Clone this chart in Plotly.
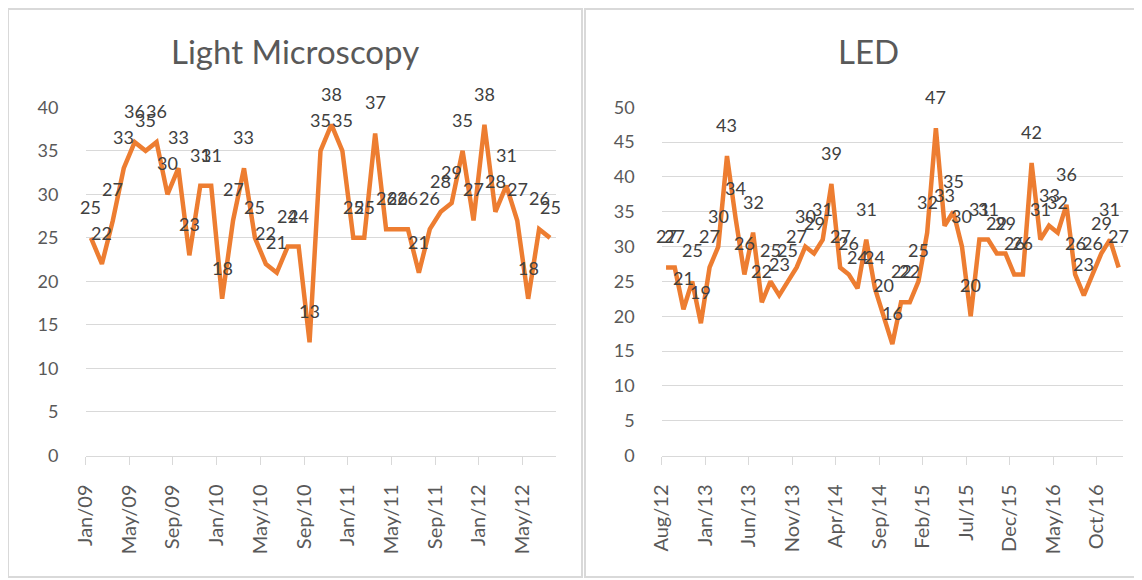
import plotly.graph_objects as go

# ---------------- data ----------------
lm_title = "Light Microscopy"
lm_values = [25, 22, 27, 33, 36, 35, 36, 30, 33, 23,
             31, 31, 18, 27, 33, 25, 22, 21, 24, 24,
             13, 35, 38, 35, 25, 25, 37, 26, 26, 26,
             21, 26, 28, 29, 35, 27, 38, 28, 31, 27,
             18, 26, 25]
lm_ticks = ["Jan/09", "May/09", "Sep/09", "Jan/10", "May/10", "Sep/10",
            "Jan/11", "May/11", "Sep/11", "Jan/12", "May/12"]
lm_tick_step = 4

led_title = "LED"
led_values = [27, 27, 21, 25, 19, 27, 30, 43, 34, 26,
              32, 22, 25, 23, 25, 27, 30, 29, 31, 39,
              27, 26, 24, 31, 24, 20, 16, 22, 22, 25,
              32, 47, 33, 35, 30, 20, 31, 31, 29, 29,
              26, 26, 42, 31, 33, 32, 36, 26, 23, 26,
              29, 31, 27]
led_ticks = ["Aug/12", "Jan/13", "Jun/13", "Nov/13", "Apr/14", "Sep/14",
             "Feb/15", "Jul/15", "Dec/15", "May/16", "Oct/16"]
led_tick_step = 5

# ---------------- style ----------------
W, H = 1142, 580
OFF = 8  # page body margin
FONT = "Lato, 'Open Sans', sans-serif"
TXT = "#595959"
LBL = "#404040"
GRID = "#d9d9d9"
ORANGE = "#ED7D31"


def px(x):
    return (x - OFF) / W


def py(y):
    return 1 - (y - OFF) / H


fig = go.Figure()

panels = [
    (lm_values, lm_ticks, lm_tick_step, 40, "x", "y"),
    (led_values, led_ticks, led_tick_step, 50, "x2", "y2"),
]

annotations = []
for vals, ticks, step, ymax, xa, ya in panels:
    xs = list(range(len(vals)))
    fig.add_trace(go.Scatter(
        x=xs, y=vals, mode="lines",
        line=dict(color=ORANGE, width=4.5),
        xaxis=xa, yaxis=ya, hoverinfo="skip", showlegend=False,
    ))
    for xi, v in zip(xs, vals):
        annotations.append(dict(
            x=xi, y=v, xref=xa, yref=ya, text=str(v), showarrow=False,
            yshift=31, xanchor="center", yanchor="middle",
            font=dict(family=FONT, size=18, color=LBL),
        ))

for title, cx in [(lm_title, 295), (led_title, 868)]:
    annotations.append(dict(text=title, x=px(cx), y=py(51), xref="paper", yref="paper",
                            showarrow=False, xanchor="center", yanchor="middle",
                            font=dict(family=FONT, size=33, color=TXT)))

ydom = [py(455.5), py(107.3)]


def xaxis_cfg(n, ticks, step, dom, anchor):
    return dict(
        domain=dom, anchor=anchor, range=[-0.5, n - 0.5],
        tickmode="array",
        tickvals=[-0.5 + step * k for k in range(len(ticks))],
        ticktext=ticks, tickangle=-90,
        ticks="outside", ticklen=8, tickcolor=GRID, tickwidth=1,
        showline=True, linecolor=GRID, linewidth=1,
        showgrid=False, zeroline=False, ticklabelstandoff=12,
        tickfont=dict(family=FONT, size=20, color=TXT),
        fixedrange=True, automargin=False,
    )


def yaxis_cfg(ymax, anchor):
    return dict(
        domain=ydom, anchor=anchor, range=[0, ymax], dtick=5, tick0=0,
        showgrid=True, gridcolor=GRID, gridwidth=1,
        showline=False, zeroline=False, ticks="", ticklabelstandoff=26,
        tickfont=dict(family=FONT, size=18, color=TXT),
        fixedrange=True, automargin=False,
    )


shapes = [
    dict(type="rect", xref="paper", yref="paper", x0=px(8), x1=px(582), y0=py(577), y1=py(9),
         line=dict(color=GRID, width=2)),
    dict(type="rect", xref="paper", yref="paper", x0=px(585), x1=px(1150), y0=py(577), y1=py(9),
         line=dict(color=GRID, width=2)),
]

fig.update_layout(
    width=W, height=H, autosize=False,
    margin=dict(l=0, r=0, t=0, b=0, pad=0, autoexpand=False),
    paper_bgcolor="white", plot_bgcolor="white",
    showlegend=False,
    xaxis=xaxis_cfg(len(lm_values), lm_ticks, lm_tick_step, [px(85.5), px(555.5)], "y"),
    yaxis=yaxis_cfg(40, "x"),
    xaxis2=xaxis_cfg(len(led_values), led_ticks, led_tick_step, [px(661.7), px(1123)], "y2"),
    yaxis2=yaxis_cfg(50, "x2"),
    annotations=annotations,
    shapes=shapes,
)

fig.write_html("out.html")
